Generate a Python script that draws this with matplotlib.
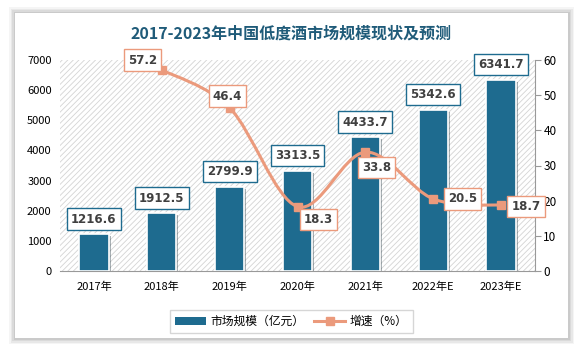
import matplotlib.pyplot as plt
import numpy as np
from matplotlib.patches import Rectangle
from matplotlib.path import Path
from matplotlib.patches import PathPatch
from matplotlib.lines import Line2D
import matplotlib.patheffects as pe

plt.rcParams['font.family'] = ['Noto Sans CJK SC', 'DejaVu Sans']
plt.rcParams['hatch.linewidth'] = 0.6

years = ['2017年', '2018年', '2019年', '2020年', '2021年', '2022年E', '2023年E']
market_size = [1216.6, 1912.5, 2799.9, 3313.5, 4433.7, 5342.6, 6341.7]
growth_x = [1, 2, 3, 4, 5, 6]
growth = [57.2, 46.4, 18.3, 33.8, 20.5, 18.7]

bar_color = '#1e6b8f'
line_color = '#eb9a7c'
text_color = '#404040'

fig = plt.figure(figsize=(5.83, 3.52), dpi=100)
fig.patch.set_facecolor('white')

# card with soft shadow
for i, a in enumerate([0.04, 0.05, 0.06, 0.07]):
    d = (4 - i) * 1.5
    fig.patches.append(Rectangle((15 / 583 - d / 583, 14 / 352 - d / 352),
                                 553 / 583 + 2 * d / 583, 325 / 352 + 2 * d / 352,
                                 transform=fig.transFigure, facecolor='black',
                                 edgecolor='none', alpha=a, zorder=0))
fig.patches.append(Rectangle((15 / 583, 14 / 352), 553 / 583, 325 / 352,
                             transform=fig.transFigure, facecolor='white',
                             edgecolor='none', zorder=1))

ax = fig.add_axes([60 / 583, 81 / 352, 475 / 583, 211 / 352])
ax.set_zorder(2)
ax.patch.set_facecolor('white')
ax.patch.set_hatch('//////')
ax.patch.set_edgecolor('#d4d4d4')
ax.patch.set_linewidth(0)

x = np.arange(len(years))
bars = ax.bar(x, market_size, width=0.43, color=bar_color, edgecolor='white',
              linewidth=1.2, zorder=3,
              path_effects=[pe.SimplePatchShadow(offset=(1.5, -1.5), alpha=0.35), pe.Normal()])
ax.set_ylim(0, 7000)
ax.set_xlim(-0.5, len(years) - 0.5)
ax.set_yticks(range(0, 7001, 1000))
ax.set_xticks(x)
ax.set_xticklabels(years)
for s in ['top', 'right', 'left']:
    ax.spines[s].set_visible(False)
ax.spines['bottom'].set_color('#999999')
ax.tick_params(axis='y', length=0, labelsize=8, pad=6)
ax.tick_params(axis='x', length=0, labelsize=8, pad=8)

for xi, v in zip(x, market_size):
    ax.annotate(f'{v}', (xi, v), xytext=(0, 11), textcoords='offset points',
                ha='center', va='center', fontsize=8.5, fontweight='bold',
                color=text_color, family='DejaVu Sans', zorder=6,
                bbox=dict(boxstyle='square,pad=0.35', fc='white', ec=bar_color, lw=1))

ax2 = ax.twinx()
ax2.set_ylim(0, 60)
ax2.set_yticks(range(0, 61, 10))
for s in ['top', 'left', 'bottom']:
    ax2.spines[s].set_visible(False)
ax2.spines['right'].set_color('#999999')
ax2.tick_params(axis='y', length=4, color='#999999', labelsize=8.5, pad=2)

# smooth curve through the points (cubic bezier, catmull-rom style)
pts = np.column_stack([growth_x, growth]).astype(float)
n = len(pts)
verts = [pts[0]]
codes = [Path.MOVETO]
for i in range(n - 1):
    p0 = pts[i - 1] if i > 0 else pts[i]
    p1 = pts[i]
    p2 = pts[i + 1]
    p3 = pts[i + 2] if i + 2 < n else pts[i + 1]
    c1 = p1 + (p2 - p0) / 6
    c2 = p2 - (p3 - p1) / 6
    verts += [c1, c2, p2]
    codes += [Path.CURVE4] * 3
ax2.add_patch(PathPatch(Path(verts, codes), fc='none', ec=line_color, lw=2.2, zorder=4))
ax2.plot(growth_x, growth, ls='none', marker='s', ms=6, color=line_color, zorder=5)

offsets = [(-14, 7), (-1.5, 8.5), (15, -9.5), (8, -11), (21, 0), (18, -1)]
for xi, v, off in zip(growth_x, growth, offsets):
    ax2.annotate(f'{v}', (xi, v), xytext=off, textcoords='offset points',
                 ha='center', va='center', fontsize=8.5, fontweight='bold',
                 color=text_color, family='DejaVu Sans', zorder=6,
                 bbox=dict(boxstyle='square,pad=0.35', fc='white', ec=line_color, lw=1))

fig.text(0.5, 0.906, '2017-2023年中国低度酒市场规模现状及预测', ha='center', va='center',
         fontsize=11.5, fontweight='bold', color='#1f5b79', zorder=3)

handles = [Rectangle((0, 0), 1, 1, fc=bar_color, ec='none'),
           Line2D([], [], color=line_color, lw=2.2, marker='s', ms=6)]
leg = fig.legend(handles, ['市场规模（亿元）', '增速（%）'], loc='center',
                 bbox_to_anchor=(0.5, 0.087), ncol=2, fontsize=8.5, frameon=True,
                 fancybox=False, edgecolor='#cccccc', handlelength=2.6,
                 columnspacing=0.8, handletextpad=0.4, borderpad=0.45)
leg.set_zorder(3)

fig.savefig('out.png', dpi=100)
